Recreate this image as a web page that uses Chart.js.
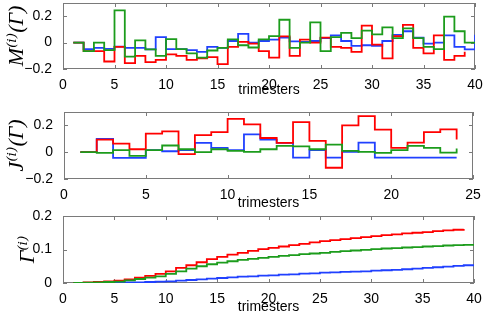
<!DOCTYPE html>
<html>
<head>
<meta charset="utf-8">
<script src="https://cdn.jsdelivr.net/npm/chart.js@4.4.0/dist/chart.umd.min.js"></script>
<style>
  html, body { margin: 0; padding: 0; background: #fff; }
  #wrap { position: relative; width: 491px; height: 321px; }
  #wrap canvas { position: absolute; left: 0; top: 0; }
</style>
</head>
<body>
<div id="wrap">
  <canvas id="chartM" width="491" height="321"></canvas>
  <canvas id="chartJ" width="491" height="321"></canvas>
  <canvas id="chartG" width="491" height="321"></canvas>
</div>
<script>
// --- TICKS ---
const xTicksLong = [0, 5, 10, 15, 20, 25, 30, 35, 40];
const xTicksShort = [0, 5, 10, 15, 20, 25];
const yTicksMJ = [-0.2, 0, 0.2];
const yTicksGamma = [0, 0.1, 0.2];
// -------------------------------------------------------

// --- M^(i)(Γ): one value per trimester, starting at trimester 1 ---
const mRed = [0, -0.064, -0.064, -0.143, -0.032, -0.156, -0.1, -0.148, -0.131, -0.089,
  -0.1, -0.131, -0.119, -0.11, -0.163, -0.032, 0.005, -0.008, -0.064, -0.114,
  0.047, -0.1, 0.022, 0, 0.037, -0.032, -0.04, -0.07, 0.128, -0.015,
  -0.119, 0.049, 0.135, -0.04, -0.082, 0.054, -0.131, -0.1, -0.07];
const mGreen = [0, -0.064, 0, -0.057, 0.244, -0.106, 0.017, -0.052, -0.1, 0.027,
  -0.05, -0.082, -0.114, -0.06, -0.04, 0.024, -0.02, -0.037, 0.024, 0.049,
  0.173, -0.04, 0, 0.153, -0.064, 0.042, 0.074, 0.034, 0.091, 0.062,
  0.116, 0.034, 0.108, 0.034, -0.032, -0.05, 0.197, 0.086, 0, 0];
const mBlue = [0, -0.05, -0.04, -0.048, -0.03, -0.04, -0.04, -0.052, 0.042, -0.05,
  -0.05, -0.057, -0.07, -0.032, -0.04, 0.012, 0.066, 0, 0.012, 0.022,
  0.037, 0.01, 0.005, 0.012, 0.034, 0.054, 0.012, -0.025, -0.02, -0.025,
  0.012, 0.059, 0.086, 0.037, -0.008, 0, 0.054, -0.032, -0.052, 0.059];
// -------------------------------------------------------

// --- J^(i)(Γ) ---
const jRed = [0, 0.094, 0.064, 0.022, 0.138, 0.155, -0.015, 0.128, 0.15, 0.249,
  0.207, 0.106, 0.069, 0.225, 0.084, -0.116, 0.2, 0.269, 0.168, 0.032,
  0.071, 0.15, 0.17, 0.094];
const jGreen = [0, -0.005, 0.015, -0.027, 0.015, 0.05, 0.022, 0, 0.022, 0.01,
  0.002, 0.022, 0.047, 0.044, 0.022, 0.057, 0.01, 0.002, -0.005, 0.015,
  0.047, 0.032, -0.003, 0.027];
const jBlue = [0, 0.1, -0.042, -0.042, 0.015, 0.007, 0.015, 0.069, 0.032, 0.015,
  0.133, 0.094, 0.07, -0.04, 0.015, -0.04, 0.002, 0.071, -0.04, -0.04,
  -0.04, -0.04, -0.04, -0.04];
// -------------------------------------------------------

// --- Γ^(i) ---
const gRed = [0, 0.002, 0.003, 0.005, 0.007, 0.011, 0.016, 0.021, 0.027, 0.035,
  0.045, 0.053, 0.062, 0.071, 0.078, 0.085, 0.09, 0.096, 0.101, 0.105,
  0.109, 0.113, 0.117, 0.121, 0.125, 0.128, 0.131, 0.134, 0.137, 0.14,
  0.143, 0.145, 0.148, 0.15, 0.152, 0.155, 0.157, 0.159, 0.161];
const gGreen = [0, 0.001, 0.002, 0.003, 0.004, 0.008, 0.012, 0.016, 0.02, 0.027,
  0.035, 0.043, 0.05, 0.056, 0.061, 0.065, 0.069, 0.072, 0.075, 0.078,
  0.081, 0.083, 0.086, 0.088, 0.09, 0.093, 0.095, 0.097, 0.099, 0.101,
  0.103, 0.104, 0.106, 0.107, 0.109, 0.11, 0.112, 0.113, 0.114, 0.115];
const gBlue = [0, 0, 0, 0.001, 0.001, 0.002, 0.002, 0.003, 0.004, 0.005,
  0.007, 0.009, 0.011, 0.013, 0.015, 0.017, 0.019, 0.02, 0.022, 0.023,
  0.025, 0.026, 0.028, 0.029, 0.031, 0.032, 0.033, 0.034, 0.035, 0.037,
  0.038, 0.039, 0.041, 0.043, 0.045, 0.047, 0.049, 0.051, 0.053, 0.054];
// -------------------------------------------------------

const RED = "#ff0000";
const GREEN = "#1c9c1c";
const BLUE = "#2040ff";
const AXIS_GRAY = "#7a7a7a";
const TICK_FONT = { family: "'Liberation Sans', Arial, sans-serif", size: 14 };
const TITLE_FONT = { family: "'Liberation Serif', 'DejaVu Serif', serif", size: 22, style: "italic" };

// --- turn values into points, trimester = index + 1 ---
const toPoints = (values) => values.map((v, i) => ({ x: i + 1, y: v }));

const fmt = (v) => (v < 0 ? "\u2212" + String(-v) : String(v));

// --- PLUGIN: matlab-like box with inward ticks on every side ---
const matlabBox = {
  id: "matlabBox",
  beforeDatasetsDraw(chart) {
    const {
      ctx,
      chartArea: { top, bottom, left, right },
      scales: { x, y },
    } = chart;
    const tl = 4;
    ctx.save();
    ctx.strokeStyle = AXIS_GRAY;
    ctx.lineWidth = 1;
    ctx.strokeRect(left + 0.5, top + 0.5, right - left - 1, bottom - top - 1);
    ctx.beginPath();
    x.ticks.forEach((t) => {
      const px = Math.round(x.getPixelForValue(t.value)) + 0.5;
      ctx.moveTo(px, bottom);
      ctx.lineTo(px, bottom - tl);
      ctx.moveTo(px, top);
      ctx.lineTo(px, top + tl);
    });
    y.ticks.forEach((t) => {
      const py = Math.round(y.getPixelForValue(t.value)) + 0.5;
      ctx.moveTo(left, py);
      ctx.lineTo(left + tl, py);
      ctx.moveTo(right, py);
      ctx.lineTo(right - tl, py);
    });
    ctx.stroke();
    ctx.restore();
  },
};
// -------------------------------------------------------

function makeChart(id, cfg) {
  const line = (values, color) => ({
    data: toPoints(values),
    borderColor: color,
    backgroundColor: color,
    borderWidth: 1.8,
    pointRadius: 0,
    stepped: "before",
    fill: false,
  });

  return new Chart(document.getElementById(id), {
    type: "line",
    data: {
      datasets: [
        line(cfg.green, GREEN),
        line(cfg.red, RED),
        line(cfg.blue, BLUE),
      ],
    },
    options: {
      responsive: false,
      animation: false,
      layout: { padding: cfg.padding },
      plugins: { legend: { display: false }, tooltip: { enabled: false } },
      scales: {
        x: {
          type: "linear",
          min: cfg.xTicks[0],
          max: cfg.xTicks[cfg.xTicks.length - 1],
          afterBuildTicks: (s) => { s.ticks = cfg.xTicks.map((v) => ({ value: v })); },
          afterFit: (s) => {
            s.height = cfg.xHeight;
            s.paddingLeft = 0;
            s.paddingRight = 0;
          },
          grid: { display: false },
          border: { display: false },
          ticks: { color: "#000", font: TICK_FONT, padding: 0, maxRotation: 0, callback: (v) => String(v) },
          title: {
            display: true,
            text: "trimesters",
            color: "#000",
            font: TICK_FONT,
            padding: { top: 0, bottom: cfg.xTitlePad },
          },
        },
        y: {
          min: cfg.yMin,
          max: cfg.yMax,
          afterBuildTicks: (s) => { s.ticks = cfg.yTicks.map((v) => ({ value: v })); },
          afterFit: (s) => {
            s.width = cfg.yWidth;
            s.paddingTop = 0;
            s.paddingBottom = 0;
          },
          grid: { display: false },
          border: { display: false },
          ticks: { color: "#000", font: TICK_FONT, padding: 3, callback: (v) => fmt(v) },
          title: {
            display: true,
            text: cfg.yTitle,
            color: "#000",
            font: TITLE_FONT,
            padding: { top: cfg.yTitlePad, bottom: 0 },
          },
        },
      },
    },
    plugins: [matlabBox],
  });
}

// --- TOP: M^(i)(Γ) ---
makeChart("chartM", {
  red: mRed, green: mGreen, blue: mBlue,
  xTicks: xTicksLong, yTicks: yTicksMJ, yMin: -0.2, yMax: 0.3,
  yTitle: "M\u207D\u2071\u207E(\u0393)",
  padding: { top: 3, bottom: 221, left: 0, right: 16 },
  xHeight: 31, yWidth: 63, xTitlePad: 1, yTitlePad: 4,
});

// --- MIDDLE: J^(i)(Γ) ---
makeChart("chartJ", {
  red: jRed, green: jGreen, blue: jBlue,
  xTicks: xTicksShort, yTicks: yTicksMJ, yMin: -0.2, yMax: 0.3,
  yTitle: "J\u207D\u2071\u207E(\u0393)",
  padding: { top: 112, bottom: 109, left: 0, right: 18 },
  xHeight: 33, yWidth: 64, xTitlePad: 0, yTitlePad: 4,
});

// --- BOTTOM: Γ^(i) ---
makeChart("chartG", {
  red: gRed, green: gGreen, blue: gBlue,
  xTicks: xTicksLong, yTicks: yTicksGamma, yMin: 0, yMax: 0.2,
  yTitle: "\u0393\u207D\u2071\u207E",
  padding: { top: 216, bottom: 5, left: 0, right: 17 },
  xHeight: 33, yWidth: 63, xTitlePad: 0, yTitlePad: 15,
});
</script>
</body>
</html>
